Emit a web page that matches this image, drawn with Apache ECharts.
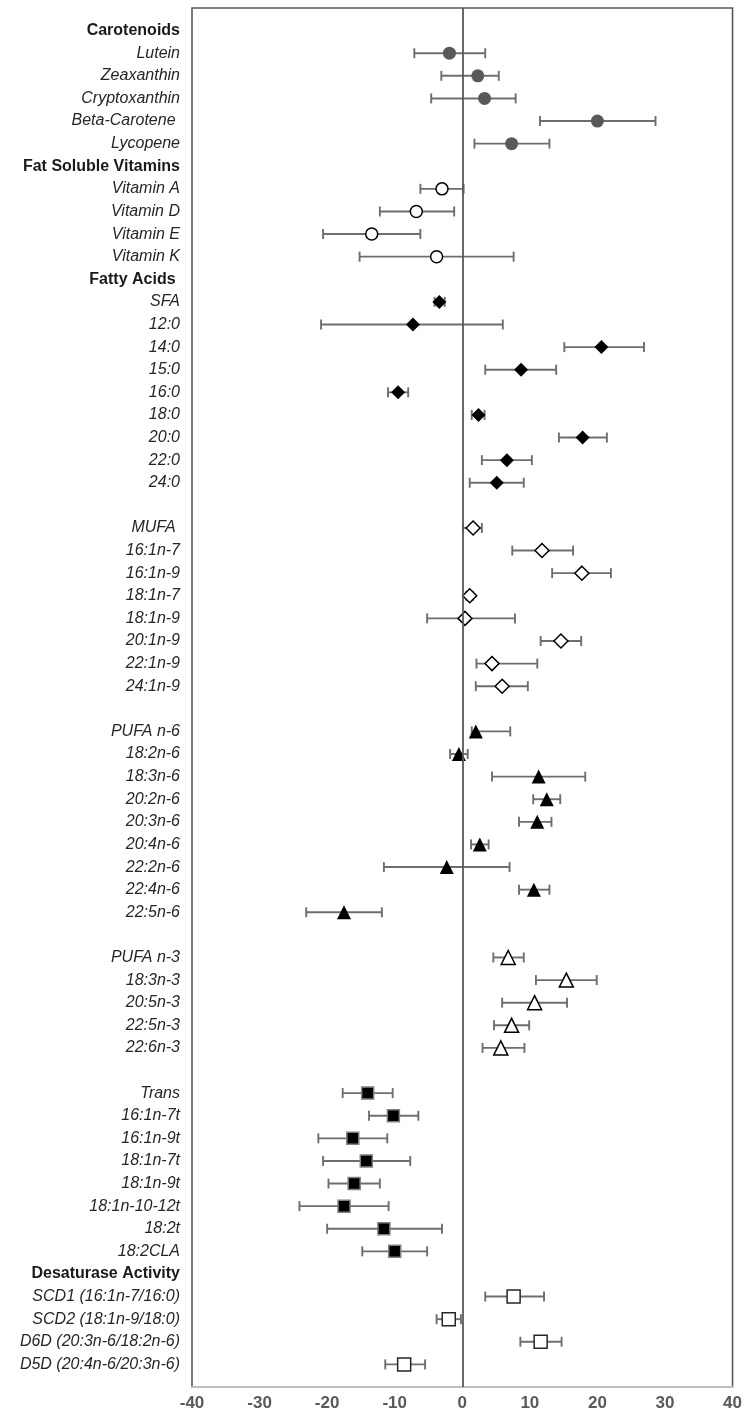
<!DOCTYPE html>
<html>
<head>
<meta charset="utf-8">
<script src="https://cdn.jsdelivr.net/npm/echarts@6/dist/echarts.min.js"></script>
<style>
  html, body { margin: 0; padding: 0; background: #fff; }
  #chart { width: 745px; height: 1415px; }
</style>
</head>
<body>
<div id="chart"></div>
<script>
// group headers (bold rows)
const headers = ['Carotenoids', 'Fat Soluble Vitamins', 'Fatty Acids ', 'Desaturase Activity'];

// carotenoids
const carotNames = ['Lutein', 'Zeaxanthin', 'Cryptoxanthin', 'Beta-Carotene ', 'Lycopene'];
const carotEst = [-1.9, 2.3, 3.3, 20.0, 7.3];
const carotLo  = [-7.1, -3.1, -4.6, 11.5, 1.8];
const carotHi  = [3.4, 5.4, 7.9, 28.6, 12.9];

// fat soluble vitamins
const vitNames = ['Vitamin A', 'Vitamin D', 'Vitamin E', 'Vitamin K'];
const vitEst = [-3.0, -6.8, -13.4, -3.8];
const vitLo  = [-6.2, -12.2, -20.6, -15.2];
const vitHi  = [0.2, -1.2, -6.2, 7.6];

// saturated
const sfaNames = ['SFA', '12:0', '14:0', '15:0', '16:0', '18:0', '20:0', '22:0', '24:0'];
const sfaEst = [-3.4, -7.3, 20.6, 8.7, -9.5, 2.4, 17.8, 6.6, 5.1];
const sfaLo  = [-4.1, -20.9, 15.1, 3.4, -11.0, 1.4, 14.3, 2.9, 1.1];
const sfaHi  = [-2.6, 6.0, 26.9, 13.9, -8.0, 3.3, 21.4, 10.3, 9.1];

// monounsaturated
const mufaNames = ['MUFA ', '16:1n-7', '16:1n-9', '18:1n-7', '18:1n-9', '20:1n-9', '22:1n-9', '24:1n-9'];
const mufaEst = [1.6, 11.8, 17.7, 1.1, 0.4, 14.6, 4.4, 5.9];
const mufaLo  = [0.1, 7.4, 13.3, 0.6, -5.2, 11.6, 2.1, 2.0];
const mufaHi  = [2.9, 16.4, 22.0, 1.6, 7.8, 17.6, 11.1, 9.7];

// n-6
const n6Names = ['PUFA n-6', '18:2n-6', '18:3n-6', '20:2n-6', '20:3n-6', '20:4n-6', '22:2n-6', '22:4n-6', '22:5n-6'];
const n6Est = [2.0, -0.5, 11.3, 12.5, 11.1, 2.6, -2.3, 10.6, -17.5];
const n6Lo  = [1.4, -1.8, 4.4, 10.5, 8.4, 1.3, -11.6, 8.4, -23.1];
const n6Hi  = [7.1, 0.8, 18.2, 14.5, 13.2, 3.9, 7.0, 12.9, -11.9];

// n-3
const n3Names = ['PUFA n-3', '18:3n-3', '20:5n-3', '22:5n-3', '22:6n-3'];
const n3Est = [6.8, 15.4, 10.7, 7.3, 5.7];
const n3Lo  = [4.6, 10.9, 5.9, 4.7, 3.0];
const n3Hi  = [9.1, 19.9, 15.5, 9.9, 9.2];

// trans
const transNames = ['Trans', '16:1n-7t', '16:1n-9t', '18:1n-7t', '18:1n-9t', '18:1n-10-12t', '18:2t', '18:2CLA'];
const transEst = [-14.0, -10.2, -16.2, -14.2, -16.0, -17.5, -11.6, -10.0];
const transLo  = [-17.7, -13.8, -21.3, -20.6, -19.8, -24.1, -20.0, -14.8];
const transHi  = [-10.3, -6.5, -11.1, -7.7, -12.2, -10.9, -3.0, -5.2];

// desaturase indices
const desatNames = ['SCD1 (16:1n-7/16:0)', 'SCD2 (18:1n-9/18:0)', 'D6D (20:3n-6/18:2n-6)', 'D5D (20:4n-6/20:3n-6)'];
const desatEst = [7.6, -2.0, 11.6, -8.6];
const desatLo  = [3.4, -3.8, 8.6, -11.4];
const desatHi  = [12.1, -0.2, 14.7, -5.5];

const xTicks = [-40, -30, -20, -10, 0, 10, 20, 30, 40];

// build row list (blank row at top and bottom to pad the frame)
let rows = [''];
let starts = {};
function addHeader(h){ rows.push(h); }
function addGroup(key, names){ starts[key] = rows.length; rows = rows.concat(names); }
addHeader(headers[0]); addGroup('carot', carotNames);
addHeader(headers[1]); addGroup('vit', vitNames);
addHeader(headers[2]); addGroup('sfa', sfaNames);
rows.push(''); addGroup('mufa', mufaNames);
rows.push(''); addGroup('n6', n6Names);
rows.push(''); addGroup('n3', n3Names);
rows.push(''); addGroup('trans', transNames);
addHeader(headers[3]); addGroup('desat', desatNames);
rows.push('');

const groups = [
  {key: 'carot', est: carotEst, lo: carotLo, hi: carotHi, symbol: 'circle', size: 13, fill: '#595959', border: '#595959', bw: 0},
  {key: 'vit', est: vitEst, lo: vitLo, hi: vitHi, symbol: 'circle', size: 12, fill: '#fff', border: '#000', bw: 1.5},
  {key: 'sfa', est: sfaEst, lo: sfaLo, hi: sfaHi, symbol: 'diamond', size: 14, fill: '#000', border: '#000', bw: 0},
  {key: 'mufa', est: mufaEst, lo: mufaLo, hi: mufaHi, symbol: 'diamond', size: 14, fill: '#fff', border: '#000', bw: 1.5},
  {key: 'n6', est: n6Est, lo: n6Lo, hi: n6Hi, symbol: 'triangle', size: 14, fill: '#000', border: '#000', bw: 0},
  {key: 'n3', est: n3Est, lo: n3Lo, hi: n3Hi, symbol: 'triangle', size: 14, fill: '#fff', border: '#000', bw: 1.5},
  {key: 'trans', est: transEst, lo: transLo, hi: transHi, symbol: 'rect', size: 12, fill: '#000', border: '#808080', bw: 1.5},
  {key: 'desat', est: desatEst, lo: desatLo, hi: desatHi, symbol: 'rect', size: 13, fill: '#fff', border: '#262626', bw: 1.5}
];

let ciData = [];
groups.forEach(g => {
  g.lo.forEach((l, i) => ciData.push([l, g.hi[i], starts[g.key] + i]));
});

function renderCI(params, api){
  const a = api.coord([api.value(0), api.value(2)]);
  const b = api.coord([api.value(1), api.value(2)]);
  const cap = 5;
  const style = {stroke: '#6e6e6e', lineWidth: 1.9};
  return {
    type: 'group',
    children: [
      {type: 'line', shape: {x1: a[0], y1: a[1], x2: b[0], y2: b[1]}, style: style},
      {type: 'line', shape: {x1: a[0], y1: a[1] - cap, x2: a[0], y2: a[1] + cap}, style: style},
      {type: 'line', shape: {x1: b[0], y1: b[1] - cap, x2: b[0], y2: b[1] + cap}, style: style}
    ]
  };
}

let series = [
  {
    type: 'scatter', data: [], z: 1, silent: true,
    markLine: {
      silent: true, symbol: 'none', label: {show: false},
      lineStyle: {color: '#595959', width: 1.8, type: 'solid'},
      data: [{xAxis: 0}]
    }
  },
  {type: 'custom', renderItem: renderCI, data: ciData, encode: {x: [0, 1], y: 2}, z: 2, silent: true}
];
groups.forEach(g => {
  series.push({
    type: 'scatter', z: 3, silent: true,
    symbol: g.symbol, symbolSize: g.size,
    itemStyle: {color: g.fill, borderColor: g.border, borderWidth: g.bw, opacity: 1},
    data: g.est.map((v, i) => [v, starts[g.key] + i])
  });
});

const chart = echarts.init(document.getElementById('chart'));
chart.setOption({
  animation: false,
  backgroundColor: '#fff',
  grid: {left: 192, right: 9, top: 3, bottom: 28, show: true, borderColor: '#595959', borderWidth: 1.6},
  xAxis: {
    type: 'value', min: xTicks[0], max: xTicks[xTicks.length - 1], interval: 10,
    axisLine: {show: true, lineStyle: {color: '#bfbfbf', width: 2}},
    axisTick: {show: false},
    splitLine: {show: false},
    axisLabel: {color: '#595959', fontSize: 17, fontWeight: 'bold', fontFamily: 'Liberation Sans', margin: 8}
  },
  yAxis: {
    type: 'category', inverse: true, boundaryGap: false, data: rows,
    axisLine: {show: false}, axisTick: {show: false}, splitLine: {show: false},
    axisLabel: {
      interval: 0, margin: 12,
      formatter: v => headers.indexOf(v) >= 0 ? '{h|' + v + '}' : '{i|' + v + '}',
      rich: {
        h: {fontFamily: 'Liberation Sans', fontSize: 16, fontWeight: 'bold', color: '#1a1a1a'},
        i: {fontFamily: 'Liberation Sans', fontSize: 16, fontStyle: 'italic', color: '#262626'}
      }
    }
  },
  series: series
});
</script>
</body>
</html>
